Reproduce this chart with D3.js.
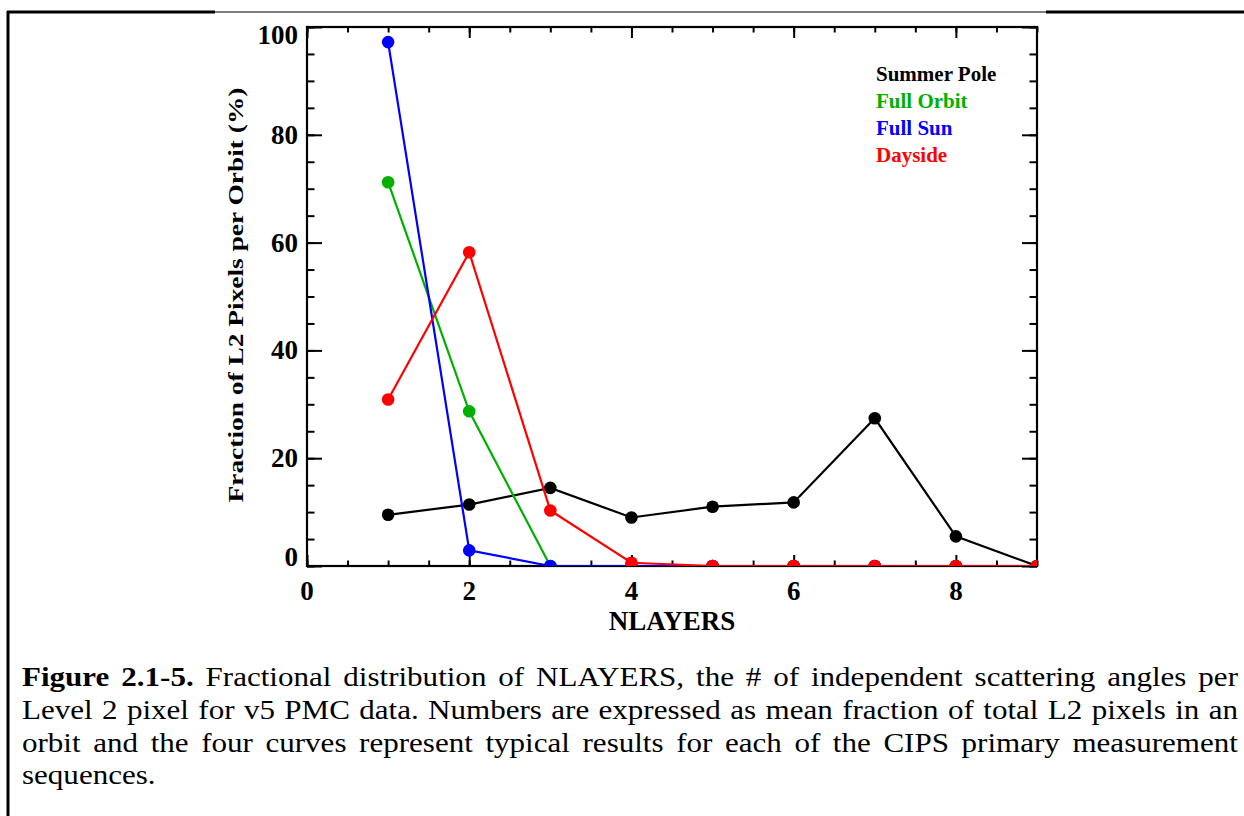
<!DOCTYPE html>
<html>
<head>
<meta charset="utf-8">
<script src="https://cdn.jsdelivr.net/npm/d3@7"></script>
<style>
  html, body { margin: 0; padding: 0; background: #fff; }
  svg { display: block; }
</style>
</head>
<body>
<script>
// NLAYERS values and mean fraction (%) of L2 pixels per orbit for each sequence
const nlayers    = [1, 2, 3, 4, 5, 6, 7, 8, 9];
const summerPole = [9.5, 11.4, 14.5, 9.0, 11.0, 11.8, 27.4, 5.5, 0];
const fullOrbit  = [71.2, 28.7, 0, 0, 0, 0, 0, 0, 0];
const fullSun    = [97.2, 2.9, 0, 0, 0, 0, 0, 0, 0];
const dayside    = [30.9, 58.2, 10.3, 0.6, 0, 0, 0, 0, 0];

const seriesNames  = ["Summer Pole", "Full Orbit", "Full Sun", "Dayside"];
const seriesValues = [summerPole, fullOrbit, fullSun, dayside];
const seriesColors = ["#000000", "#00b000", "#0000ff", "#ff0000"];

const xTickValues = [0, 2, 4, 6, 8];
const yTickValues = [0, 20, 40, 60, 80, 100];

const xTitle = "NLAYERS";
const yTitle = "Fraction of L2 Pixels per Orbit (%)";

// caption lines; first two words are bold
const captionLines = [
  "Figure 2.1-5. Fractional distribution of NLAYERS, the # of independent scattering angles per",
  "Level 2 pixel for v5 PMC data. Numbers are expressed as mean fraction of total L2 pixels in an",
  "orbit and the four curves represent typical results for each of the CIPS primary measurement",
  "sequences."
];
const captionBoldWords = 2;

const W = 1244, H = 816;
const serif = "'Liberation Serif', 'Times New Roman', Times, serif";

const svg = d3.select("body").append("svg")
  .attr("width", W).attr("height", H);

// ---- page frame ----
svg.append("line").attr("x1", 8).attr("x2", 8).attr("y1", 11).attr("y2", H)
  .attr("stroke", "#000").attr("stroke-width", 3);
svg.append("line").attr("x1", 7).attr("x2", 215).attr("y1", 12).attr("y2", 12)
  .attr("stroke", "#000").attr("stroke-width", 3);
svg.append("line").attr("x1", 215).attr("x2", 1046).attr("y1", 12).attr("y2", 12)
  .attr("stroke", "#000").attr("stroke-width", 1.2);
svg.append("line").attr("x1", 1046).attr("x2", W).attr("y1", 12).attr("y2", 12)
  .attr("stroke", "#000").attr("stroke-width", 3);

// ---- plot area ----
const plot = { left: 307, top: 27, right: 1037, bottom: 566 };
const x = d3.scaleLinear().domain([0, 9]).range([plot.left, plot.right]);
const y = d3.scaleLinear().domain([0, 100]).range([plot.bottom, plot.top]);

const minorX = d3.range(0, 9.001, 0.5);
const minorY = d3.range(0, 100.001, 5);

function tickAxis(axis, values, size, tx, ty) {
  const g = svg.append("g").attr("transform", `translate(${tx},${ty})`)
    .call(axis.tickValues(values).tickSize(size).tickFormat(""));
  g.select(".domain").remove();
  g.selectAll(".tick line").attr("stroke", "#000").attr("stroke-width", 2);
  return g;
}
// inward-pointing minor and major ticks on all four sides
tickAxis(d3.axisBottom(x), minorX, -5.5, 0, plot.bottom);
tickAxis(d3.axisBottom(x), xTickValues, -11, 0, plot.bottom);
tickAxis(d3.axisTop(x), minorX, -5.5, 0, plot.top);
tickAxis(d3.axisTop(x), xTickValues, -11, 0, plot.top);
tickAxis(d3.axisLeft(y), minorY, -7.5, plot.left, 0);
tickAxis(d3.axisLeft(y), yTickValues, -15, plot.left, 0);
tickAxis(d3.axisRight(y), minorY, -7.5, plot.right, 0);
tickAxis(d3.axisRight(y), yTickValues, -15, plot.right, 0);

// frame of the plot
svg.append("rect")
  .attr("x", plot.left).attr("y", plot.top)
  .attr("width", plot.right - plot.left).attr("height", plot.bottom - plot.top)
  .attr("fill", "none").attr("stroke", "#000").attr("stroke-width", 2.2);

// tick labels
svg.append("g").selectAll("text").data(xTickValues).join("text")
  .attr("x", d => x(d)).attr("y", 600)
  .attr("text-anchor", "middle")
  .attr("font-family", serif).attr("font-weight", "bold").attr("font-size", 27)
  .text(d => d);

// end labels sit inside the axis span
const yLabelShift = d => d === 0 ? -9 : (d === 100 ? 8 : 0);
svg.append("g").selectAll("text").data(yTickValues).join("text")
  .attr("x", plot.left - 9).attr("y", d => y(d) + yLabelShift(d) + 9)
  .attr("text-anchor", "end")
  .attr("font-family", serif).attr("font-weight", "bold").attr("font-size", 27)
  .text(d => d);

// axis titles
svg.append("text")
  .attr("x", (plot.left + plot.right) / 2).attr("y", 630)
  .attr("text-anchor", "middle")
  .attr("font-family", serif).attr("font-weight", "bold").attr("font-size", 27)
  .text(xTitle);

svg.append("text")
  .attr("transform", `translate(243,${295}) rotate(-90)`)
  .attr("text-anchor", "middle")
  .attr("font-family", serif).attr("font-weight", "bold").attr("font-size", 22)
  .attr("textLength", 415).attr("lengthAdjust", "spacingAndGlyphs")
  .text(yTitle);

// ---- data ----
svg.append("clipPath").attr("id", "plot-clip").append("rect")
  .attr("x", plot.left).attr("y", plot.top)
  .attr("width", plot.right - plot.left).attr("height", plot.bottom - plot.top);

const dataG = svg.append("g").attr("clip-path", "url(#plot-clip)");
const line = d3.line().x(d => x(d[0])).y(d => y(d[1]));

seriesValues.forEach((vals, i) => {
  const pts = nlayers.map((n, j) => [n, vals[j]]);
  const g = dataG.append("g");
  g.append("path").datum(pts)
    .attr("d", line).attr("fill", "none")
    .attr("stroke", seriesColors[i]).attr("stroke-width", 2.2);
  g.selectAll("circle").data(pts).join("circle")
    .attr("cx", d => x(d[0])).attr("cy", d => y(d[1])).attr("r", 6.3)
    .attr("fill", seriesColors[i]);
});

// legend
svg.append("g").selectAll("text").data(seriesNames).join("text")
  .attr("x", 876).attr("y", (d, i) => 80.5 + i * 27.2)
  .attr("font-family", serif).attr("font-weight", "bold").attr("font-size", 21)
  .attr("fill", (d, i) => seriesColors[i])
  .text(d => d);

// ---- caption, justified word by word, set slightly wide ----
const capLeft = 22, capRight = 1238;
const capStretch = 1.15;
const capG = svg.append("g")
  .attr("font-family", serif).attr("font-size", 27).attr("fill", "#000");
let wordIndex = 0;
captionLines.forEach((ln, li) => {
  const words = ln.split(" ");
  const baseline = 686 + li * 32.8;
  const nodes = words.map(w => {
    const t = capG.append("text").text(w);
    if (wordIndex < captionBoldWords) t.attr("font-weight", "bold");
    wordIndex++;
    return t;
  });
  const widths = nodes.map(t => t.node().getComputedTextLength() * capStretch);
  const total = d3.sum(widths);
  const last = li === captionLines.length - 1;
  const gap = last ? 7 : (capRight - capLeft - total) / (words.length - 1);
  let cx = capLeft;
  nodes.forEach((t, k) => {
    t.attr("transform", `translate(${cx},${baseline}) scale(${capStretch},1)`);
    cx += widths[k] + gap;
  });
});
</script>
</body>
</html>
